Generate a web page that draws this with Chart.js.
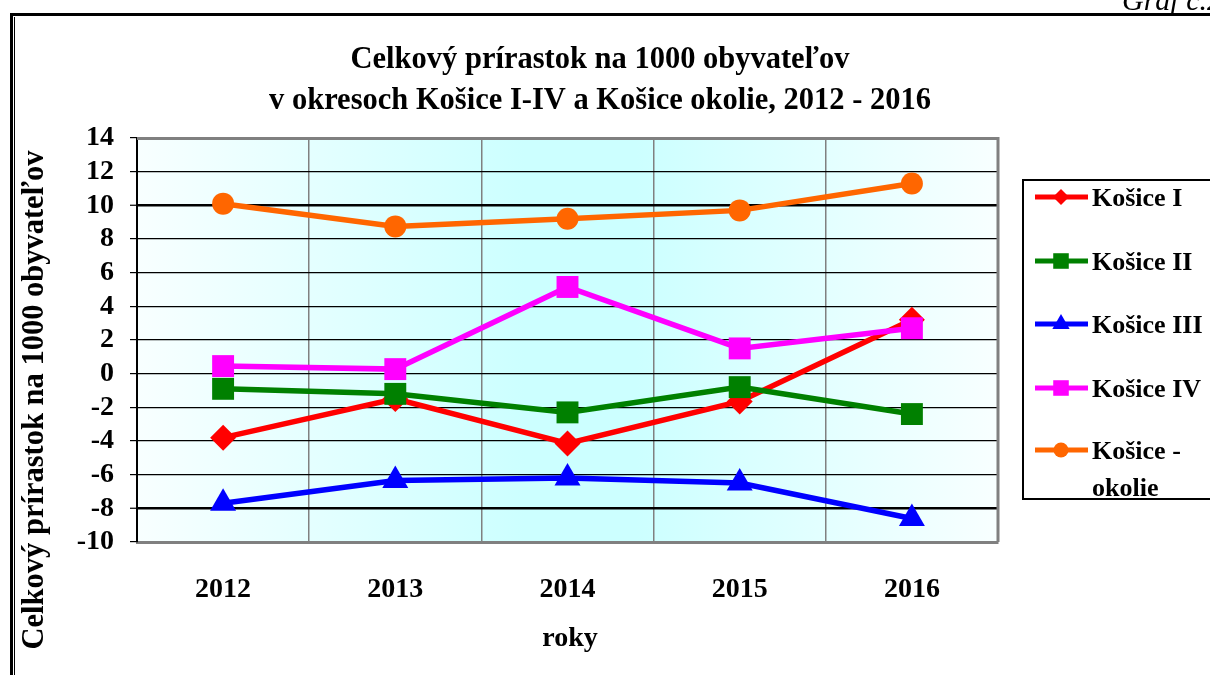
<!DOCTYPE html>
<html>
<head>
<meta charset="utf-8">
<script src="https://cdn.jsdelivr.net/npm/chart.js@4/dist/chart.umd.min.js"></script>
<style>
html,body{margin:0;padding:0;background:#fff;}
#wrap{width:1210px;height:675px;position:relative;}
</style>
</head>
<body>
<div id="wrap"><canvas id="c" width="1210" height="675"></canvas></div>
<script>
// ---- data ----
const categories = ['2012', '2013', '2014', '2015', '2016'];
const kosiceI = [-3.8, -1.5, -4.15, -1.65, 3.2];
const kosiceII = [-0.9, -1.2, -2.3, -0.8, -2.4];
const kosiceIII = [-7.7, -6.35, -6.2, -6.5, -8.6];
const kosiceIV = [0.45, 0.27, 5.15, 1.5, 2.7];
const kosiceOkolie = [10.1, 8.75, 9.2, 9.7, 11.3];
const seriesLabels = ['Košice I', 'Košice II', 'Košice III', 'Košice IV', 'Košice - okolie'];
const yMin = -10, yMax = 14, yStep = 2;
const titleLines = ['Celkový prírastok na 1000 obyvateľov', 'v okresoch Košice I-IV a Košice okolie, 2012 - 2016'];
const yTitle = 'Celkový prírastok na 1000 obyvateľov';
const xTitle = 'roky';
const cornerText = 'Graf č.2';

const SERIF = '"Liberation Serif", "Times New Roman", serif';

const styles = [
  {color: '#ff0000', point: 'rectRot', r: 13, lr: 8},
  {color: '#008000', point: 'rect', r: 15.5, lr: 11},
  {color: '#0000ff', point: 'triangle', r: 15, lr: 10},
  {color: '#ff00ff', point: 'rect', r: 15.5, lr: 11},
  {color: '#ff6600', point: 'circle', r: 11, lr: 7.5}
];
const values = [kosiceI, kosiceII, kosiceIII, kosiceIV, kosiceOkolie];

const datasets = values.map((v, i) => ({
  label: seriesLabels[i],
  data: v,
  order: values.length - i,
  borderColor: styles[i].color,
  backgroundColor: styles[i].color,
  pointBackgroundColor: styles[i].color,
  pointBorderColor: styles[i].color,
  pointBorderWidth: 0,
  pointStyle: styles[i].point,
  pointRadius: styles[i].r,
  borderWidth: 5.5,
  tension: 0,
  fill: false,
  clip: false
}));

function drawMarker(ctx, style, x, y, r) {
  ctx.beginPath();
  if (style === 'circle') {
    ctx.arc(x, y, r, 0, Math.PI * 2);
  } else if (style === 'rect') {
    const s = r * Math.SQRT1_2;
    ctx.rect(x - s, y - s, 2 * s, 2 * s);
  } else if (style === 'rectRot') {
    ctx.moveTo(x, y - r); ctx.lineTo(x + r, y); ctx.lineTo(x, y + r); ctx.lineTo(x - r, y); ctx.closePath();
  } else if (style === 'triangle') {
    ctx.moveTo(x, y - r);
    ctx.lineTo(x + r * Math.sqrt(3) / 2, y + r / 2);
    ctx.lineTo(x - r * Math.sqrt(3) / 2, y + r / 2);
    ctx.closePath();
  }
  ctx.fill();
}

const decor = {
  id: 'decor',
  beforeDraw(chart) {
    const {ctx, chartArea: a} = chart;
    ctx.save();
    const g = ctx.createLinearGradient(a.left, 0, a.right, 0);
    g.addColorStop(0, '#f8ffff');
    g.addColorStop(0.45, '#ccffff');
    g.addColorStop(0.58, '#ccffff');
    g.addColorStop(1, '#f8ffff');
    ctx.fillStyle = g;
    ctx.fillRect(a.left, a.top, a.right - a.left, a.bottom - a.top);
    ctx.restore();
  },
  beforeDatasetsDraw(chart) {
    const {ctx, chartArea: a} = chart;
    ctx.save();
    ctx.strokeStyle = '#808080';
    ctx.lineWidth = 3;
    ctx.beginPath();
    ctx.moveTo(a.left, a.top + 0.5); ctx.lineTo(a.right, a.top + 0.5);
    ctx.lineTo(a.right, a.bottom);
    ctx.stroke();
    ctx.restore();
  },
  afterDraw(chart) {
    const {ctx} = chart;
    ctx.save();
    // frame
    ctx.strokeStyle = '#000';
    ctx.lineWidth = 3;
    ctx.beginPath();
    ctx.moveTo(11.5, 675); ctx.lineTo(11.5, 14.5); ctx.lineTo(1210, 14.5);
    ctx.stroke();
    ctx.lineWidth = 1;
    ctx.beginPath();
    ctx.moveTo(14.5, 17); ctx.lineTo(14.5, 675);
    ctx.stroke();
    // corner text
    ctx.fillStyle = '#000';
    ctx.font = 'italic 30px ' + SERIF;
    ctx.textAlign = 'left';
    ctx.textBaseline = 'alphabetic';
    ctx.fillText(cornerText, 1122, 10);
    // title
    ctx.font = 'bold 30.5px ' + SERIF;
    ctx.textAlign = 'center';
    ctx.fillText(titleLines[0], 600, 68);
    ctx.fillText(titleLines[1], 600, 109);
    // y title
    ctx.save();
    ctx.translate(43, 400);
    ctx.rotate(-Math.PI / 2);
    ctx.font = 'bold 30.5px ' + SERIF;
    ctx.textAlign = 'center';
    ctx.fillText(yTitle, 0, 0);
    ctx.restore();
    // x title
    ctx.font = 'bold 28px ' + SERIF;
    ctx.textAlign = 'center';
    ctx.fillText(xTitle, 570, 646);
    // legend
    ctx.lineWidth = 2;
    ctx.strokeStyle = '#000';
    ctx.strokeRect(1023, 180, 200, 319);
    const ys = [197, 261, 324, 388, 450];
    chart.data.datasets.forEach((ds, i) => {
      const y = ys[i];
      ctx.strokeStyle = ds.borderColor;
      ctx.fillStyle = ds.borderColor;
      ctx.lineWidth = 5;
      ctx.beginPath();
      ctx.moveTo(1035, y); ctx.lineTo(1088, y);
      ctx.stroke();
      drawMarker(ctx, ds.pointStyle, 1061, y, styles[i].lr);
      ctx.fillStyle = '#000';
      ctx.font = 'bold 26px ' + SERIF;
      ctx.textAlign = 'left';
      ctx.textBaseline = 'alphabetic';
      const parts = ds.label === 'Košice - okolie' ? ['Košice -', 'okolie'] : [ds.label];
      parts.forEach((p, k) => ctx.fillText(p, 1092, y + 9 + k * 37));
    });
    ctx.restore();
  }
};

new Chart(document.getElementById('c'), {
  type: 'line',
  data: {labels: categories, datasets: datasets},
  options: {
    responsive: false,
    animation: false,
    devicePixelRatio: 1,
    layout: {padding: {top: 138, right: 212, left: 0, bottom: 0}},
    plugins: {legend: {display: false}, title: {display: false}, tooltip: {enabled: false}},
    scales: {
      x: {
        type: 'category',
        offset: true,
        afterFit(s) { s.height = 133; },
        grid: {offset: true, color: '#808080', lineWidth: 1.5, drawTicks: false},
        border: {display: true, color: '#808080', width: 3},
        ticks: {color: '#000', padding: 31, font: {family: SERIF, size: 28, weight: 'bold'}}
      },
      y: {
        min: yMin, max: yMax,
        afterFit(s) { s.width = 137; },
        grid: {
          color: '#000',
          lineWidth: (c) => (c.tick && (c.tick.value === 10 || c.tick.value === -8)) ? 2.5 : 1.2,
          drawTicks: true, tickLength: 7, tickColor: '#000', tickWidth: 1.2
        },
        border: {display: true, color: '#000', width: 2},
        ticks: {stepSize: yStep, autoSkip: false, color: '#000', padding: 16, font: {family: SERIF, size: 28, weight: 'bold'}}
      }
    }
  },
  plugins: [decor]
});
</script>
</body>
</html>
